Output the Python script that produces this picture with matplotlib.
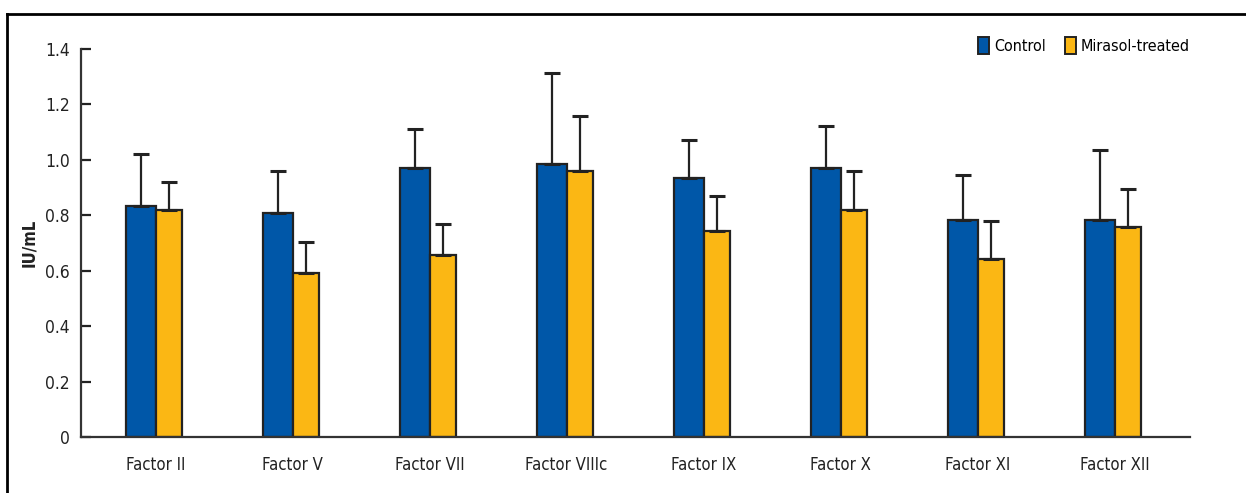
import matplotlib
matplotlib.use("Agg")
import matplotlib.pyplot as plt
from matplotlib.lines import Line2D
from matplotlib.patches import Patch
import numpy as np

plt.rcParams['font.family'] = ['Liberation Sans Narrow', 'DejaVu Sans']
plt.rcParams['font.stretch'] = 'condensed'

factors = ["Factor II", "Factor V", "Factor VII", "Factor VIIIc",
           "Factor IX", "Factor X", "Factor XI", "Factor XII"]
control = [0.835, 0.807, 0.972, 0.984, 0.936, 0.972, 0.782, 0.782]
control_sd = [0.185, 0.151, 0.139, 0.329, 0.137, 0.150, 0.164, 0.253]
mirasol = [0.818, 0.593, 0.656, 0.960, 0.745, 0.820, 0.643, 0.756]
mirasol_sd = [0.102, 0.112, 0.114, 0.200, 0.125, 0.138, 0.137, 0.139]
yticks = [0, 0.2, 0.4, 0.6, 0.8, 1.0, 1.2, 1.4]
ytick_labels = ["0", "0.2", "0.4", "0.6", "0.8", "1.0", "1.2", "1.4"]

blue = "#0057a8"
gold = "#fbb714"
edge = "#222222"
txt = "#222222"

fig = plt.figure(figsize=(12.46, 4.93), dpi=100)
ax = fig.add_axes([0.065, 0.1136, 0.89, 0.787])

x = np.arange(len(factors))
w_c = 0.215
w_m = 0.19
err_kw = dict(ecolor=edge, elinewidth=1.6, capsize=5.5, capthick=2.2)

ax.bar(x - w_c / 2, control, w_c, color=blue, edgecolor=edge, linewidth=1.6,
       yerr=[np.zeros(len(factors)), control_sd], error_kw=err_kw, zorder=2)
ax.bar(x + w_m / 2, mirasol, w_m, color=gold, edgecolor=edge, linewidth=1.6,
       yerr=[np.zeros(len(factors)), mirasol_sd], error_kw=err_kw, zorder=2)

ax.set_xlim(-0.545, 7.55)
ax.set_ylim(0, 1.4)
ax.set_yticks(yticks)
ax.set_yticklabels(ytick_labels, fontsize=12.5, color=txt)
ax.set_xticks(x)
ax.set_xticklabels(factors, fontsize=12, color=txt)
ax.tick_params(axis='y', direction='in', length=7, width=1.6, colors=edge, pad=8)
ax.tick_params(axis='x', length=0, pad=14)

for side in ("top", "right"):
    ax.spines[side].set_visible(False)
for side in ("left", "bottom"):
    ax.spines[side].set_linewidth(1.6)
    ax.spines[side].set_color("#333333")

ax.set_ylabel("IU/mL", fontsize=12, fontweight="bold", color=txt)
ax.yaxis.set_label_coords(-0.039, 0.5)

handles = [Patch(facecolor=blue, edgecolor=edge, linewidth=1.4, label="Control"),
           Patch(facecolor=gold, edgecolor=edge, linewidth=1.4, label="Mirasol-treated")]
ax.legend(handles=handles, loc="upper right", bbox_to_anchor=(1.0, 1.03),
          ncol=2, frameon=False, fontsize=11.5, handlelength=0.7, handleheight=1.2,
          handletextpad=0.3, columnspacing=1.2, borderaxespad=0, borderpad=0)

# frame lines along the top and left edge of the figure
fig.add_artist(Line2D([7 / 1246, 1], [1 - 14 / 493, 1 - 14 / 493],
                      transform=fig.transFigure, color="black", linewidth=2))
fig.add_artist(Line2D([7 / 1246, 7 / 1246], [0, 1 - 14 / 493],
                      transform=fig.transFigure, color="black", linewidth=2))

fig.savefig("out.png", dpi=100)
